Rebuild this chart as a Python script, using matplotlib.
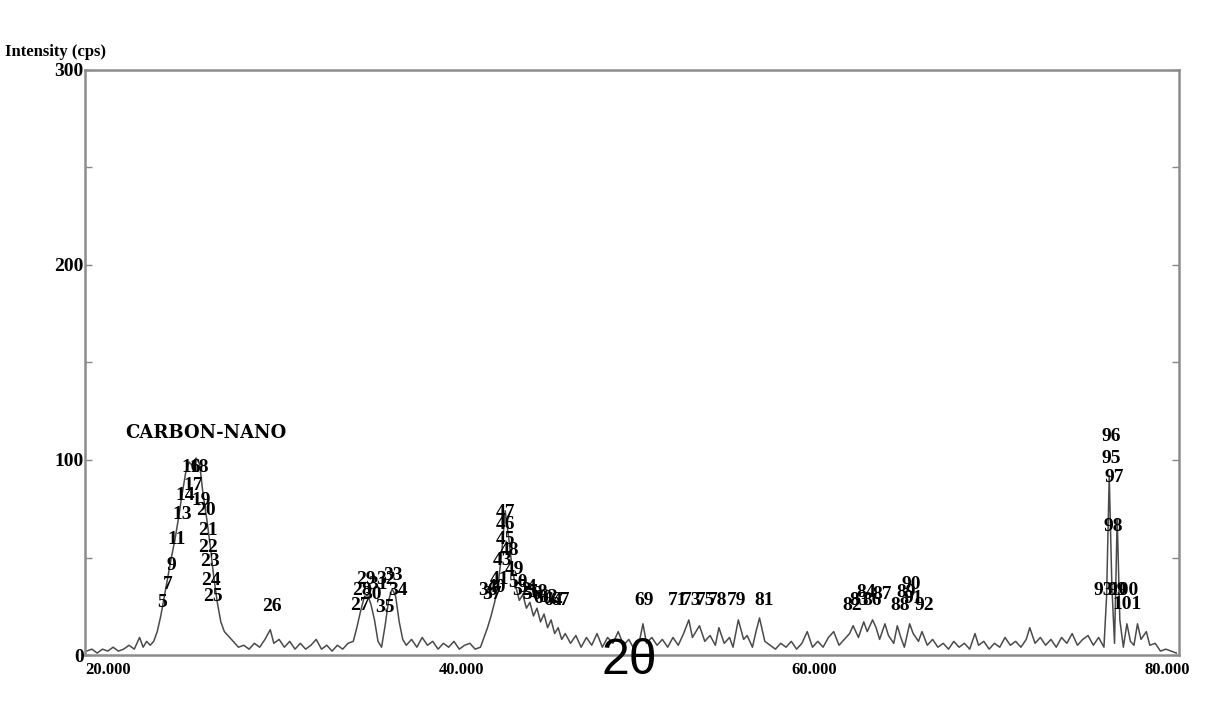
import matplotlib
matplotlib.use("Agg")
import matplotlib.pyplot as plt
from matplotlib import font_manager

# ---------------- data ----------------
two_theta = [18.8, 19.1, 19.4, 19.7, 20.0, 20.3, 20.6, 20.9, 21.2, 21.5, 21.8, 22.0, 22.2, 22.4,
             22.6, 22.8, 23.0, 23.2, 23.4, 23.6, 23.8, 24.0, 24.2, 24.4, 24.6, 24.8, 25.0, 25.2,
             25.4, 25.6, 25.8, 26.0, 26.2, 26.4, 26.6, 26.8, 27.0, 27.2, 27.4, 27.7, 28.0, 28.3,
             28.6, 28.9, 29.2, 29.4, 29.7, 30.0, 30.3, 30.6, 30.9, 31.2, 31.5, 31.8, 32.1, 32.4,
             32.7, 33.0, 33.3, 33.6, 33.9, 34.1, 34.3, 34.5, 34.7, 34.9, 35.1, 35.3, 35.5, 35.7,
             35.9, 36.1, 36.3, 36.5, 36.7, 36.9, 37.2, 37.5, 37.8, 38.1, 38.4, 38.7, 39.0, 39.3,
             39.6, 39.9, 40.2, 40.5, 40.8, 41.1, 41.3, 41.5, 41.7, 41.9, 42.1, 42.3, 42.5, 42.7,
             42.9, 43.1, 43.3, 43.5, 43.7, 43.9, 44.1, 44.3, 44.5, 44.7, 44.9, 45.1, 45.3, 45.5,
             45.7, 45.9, 46.2, 46.5, 46.8, 47.1, 47.4, 47.7, 48.0, 48.3, 48.6, 48.9, 49.2, 49.5,
             49.8, 50.1, 50.3, 50.5, 50.8, 51.1, 51.4, 51.7, 52.0, 52.3, 52.6, 52.9, 53.1, 53.3,
             53.5, 53.8, 54.1, 54.4, 54.6, 54.9, 55.2, 55.4, 55.7, 56.0, 56.2, 56.5, 56.7, 56.9,
             57.2, 57.5, 57.8, 58.1, 58.4, 58.7, 59.0, 59.3, 59.6, 59.9, 60.2, 60.5, 60.8, 61.1,
             61.4, 61.7, 62.0, 62.2, 62.5, 62.8, 63.0, 63.3, 63.5, 63.7, 64.0, 64.2, 64.5, 64.7,
             64.9, 65.1, 65.4, 65.6, 65.9, 66.1, 66.4, 66.7, 67.0, 67.3, 67.6, 67.9, 68.2, 68.5,
             68.8, 69.1, 69.3, 69.6, 69.9, 70.2, 70.5, 70.8, 71.1, 71.4, 71.7, 72.0, 72.2, 72.5,
             72.8, 73.1, 73.4, 73.7, 74.0, 74.3, 74.6, 74.9, 75.2, 75.5, 75.8, 76.1, 76.4, 76.55,
             76.7, 76.85, 77.0, 77.15, 77.3, 77.5, 77.7, 77.9, 78.1, 78.3, 78.5, 78.8, 79.0, 79.3,
             79.6, 79.9, 80.2, 80.5]
intensity = [2, 3, 1, 3, 2, 4, 2, 3, 5, 3, 9, 4, 7, 5,
             7, 12, 20, 30, 40, 50, 59, 70, 82, 93, 99, 97, 101, 98,
             82, 70, 56, 40, 27, 17, 12, 10, 8, 6, 4, 5, 3, 6,
             4, 8, 13, 6, 8, 4, 7, 3, 6, 3, 5, 8, 3, 5,
             2, 5, 3, 6, 7, 14, 22, 29, 31, 26, 18, 7, 4, 15,
             28, 34, 30, 17, 8, 5, 8, 4, 9, 5, 7, 3, 6, 4,
             7, 3, 5, 6, 3, 4, 9, 14, 20, 27, 36, 52, 74, 60,
             44, 35, 28, 31, 24, 27, 20, 24, 17, 21, 14, 18, 11, 14,
             8, 11, 6, 10, 4, 9, 5, 11, 4, 9, 6, 12, 5, 8,
             3, 7, 16, 6, 9, 5, 8, 4, 9, 5, 11, 18, 9, 12,
             15, 7, 10, 5, 14, 6, 9, 4, 18, 8, 10, 4, 12, 19,
             7, 5, 3, 6, 4, 7, 3, 6, 12, 4, 7, 4, 9, 12,
             5, 8, 11, 15, 9, 17, 12, 18, 14, 8, 16, 10, 6, 15,
             9, 4, 16, 11, 7, 12, 5, 8, 4, 6, 3, 7, 4, 6,
             3, 11, 5, 7, 3, 6, 4, 9, 5, 7, 4, 8, 14, 6,
             9, 5, 8, 4, 9, 6, 11, 5, 8, 10, 5, 9, 4, 30,
             92, 35, 6, 70, 18, 4, 16, 7, 5, 16, 8, 12, 5, 6,
             2, 3, 2, 1]

peak_ids = ["5", "7", "9", "11", "13", "14", "16", "18", "17", "19", "20", "21", "22", "23",
            "24", "25", "26",
            "27", "28", "29", "30", "31", "32", "33", "34", "35",
            "36", "37", "40", "41", "43", "45", "46", "47", "48", "49", "50", "52", "54", "56",
            "58", "60", "62", "64", "67",
            "69", "71", "73", "75", "78", "79", "81",
            "82", "83", "84", "86", "87", "88", "89", "90", "91", "92",
            "93", "95", "96", "97", "98", "99", "100", "101"]
peak_x = [23.1, 23.4, 23.6, 23.9, 24.2, 24.4, 24.7, 25.2, 24.85, 25.3, 25.55, 25.65, 25.7, 25.8,
          25.85, 25.95, 29.3,
          34.28, 34.39, 34.62, 34.96, 35.3, 35.75, 36.14, 36.43, 35.69,
          41.52, 41.75, 41.98, 42.2, 42.37, 42.49, 42.54, 42.49, 42.77, 43.0, 43.22, 43.45, 43.74,
          44.02, 44.35, 44.64, 44.92, 45.2, 45.6,
          50.36, 52.28, 53.08, 53.87, 54.55, 55.63, 57.15,
          62.13, 62.53, 62.92, 63.26, 63.83, 64.85, 65.19, 65.48, 65.59, 66.21,
          76.34, 76.84, 76.84, 77.0, 76.9, 77.15, 77.55, 77.72]
peak_y = [27, 36, 46, 59, 72, 82, 96, 96, 87, 79, 74, 64, 55, 48,
          38, 30, 25,
          25.6, 33.3, 38.5, 30.8, 35.9, 38.5, 41, 33.3, 24.6,
          33.3, 30.8, 34.4, 38.5, 48.7, 59, 66.7, 73.3, 53.8, 43.6, 37.4, 33.3, 34.4,
          30.8, 32.3, 29.2, 29.7, 28.2, 28.2,
          28, 28, 28, 28, 28, 28, 28,
          25.6, 28, 32, 28, 31, 25.6, 32, 36, 29, 25.6,
          33, 101, 112, 91, 66, 33, 33, 26]

sample_name = "CARBON-NANO"
y_ticks = [0, 100, 200, 300]
y_minor = [50, 150, 250]
x_ticks = [20, 40, 60, 80]
x_tick_labels = ["20.000", "40.000", "60.000", "80.000"]

# ---------------- fonts ----------------
available = {f.name for f in font_manager.fontManager.ttflist}
serif = "Liberation Serif" if "Liberation Serif" in available else "DejaVu Serif"
narrow = "Liberation Sans Narrow" if "Liberation Sans Narrow" in available else "Liberation Sans"

# ---------------- figure ----------------
fig = plt.figure(figsize=(12.14, 7.15), dpi=100)
ax = fig.add_axes([85 / 1214, 1 - 655 / 715, (1179 - 85) / 1214, (655 - 70) / 715])

ax.plot(two_theta, intensity, color="#4a4a4a", linewidth=1.1)

for t, x, y in zip(peak_ids, peak_x, peak_y):
    ax.text(x, y, t, ha="center", va="center", fontsize=14, fontweight="bold",
            family=serif, color="black")

ax.text(20.97, 114, sample_name, ha="left", va="center", fontsize=13,
        fontweight="bold", family="DejaVu Serif", color="black")

ax.set_xlim(18.71, 80.65)
ax.set_ylim(0, 300)

ax.set_yticks(y_ticks)
ax.set_yticks(y_minor, minor=True)
ax.set_yticklabels([str(v) for v in y_ticks], family=serif, fontweight="bold", fontsize=14)
ax.set_xticks(x_ticks)
ax.set_xticklabels(x_tick_labels, family=serif, fontweight="bold", fontsize=12)

ax.tick_params(axis="y", which="both", direction="in", right=True, left=True,
               length=5, width=1, color="#888888", pad=1)
ax.tick_params(axis="x", which="both", length=0, pad=5)

for s in ax.spines.values():
    s.set_color("#8c8c8c")
    s.set_linewidth(1.8)

fig.text(5 / 1214, 1 - 52 / 715, "Intensity (cps)", ha="left", va="center",
         fontsize=12, fontweight="bold", family=serif, color="black")

fig.text(629 / 1214, 1 - 661 / 715, "2θ", ha="center", va="center",
         fontsize=36, family=narrow, color="black")

fig.savefig("out.png", dpi=100)
